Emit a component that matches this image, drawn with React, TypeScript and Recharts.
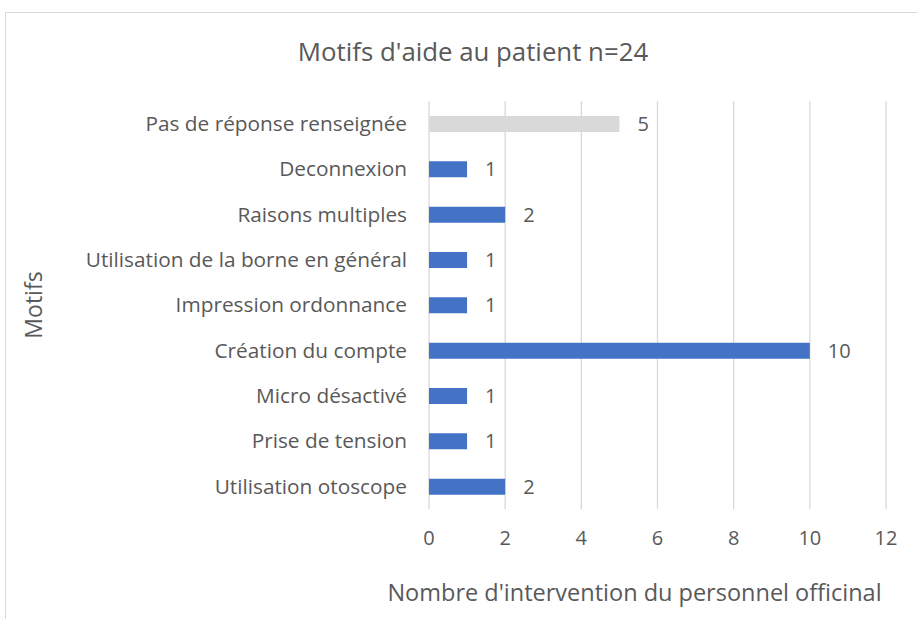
import React from "react";
import { BarChart, Bar, XAxis, YAxis, CartesianGrid, Cell, LabelList } from "recharts";

const motifs = [
  "Pas de réponse renseignée",
  "Deconnexion",
  "Raisons multiples",
  "Utilisation de la borne en général",
  "Impression ordonnance",
  "Création du compte",
  "Micro désactivé",
  "Prise de tension",
  "Utilisation otoscope",
];
const interventions = [5, 1, 2, 1, 1, 10, 1, 1, 2];
const xTicks = [0, 2, 4, 6, 8, 10, 12];

const data = motifs.map((motif, i) => ({ motif, value: interventions[i] }));

const FONT = "'Open Sans', sans-serif";
const TEXT = "#595959";

export default function App() {
  return (
    <div style={{ position: "absolute", left: 0, top: 0, width: 917, height: 619, background: "#fff", fontFamily: FONT, overflow: "hidden" }}>
      <div
        style={{
          position: "absolute",
          left: 5,
          top: 12,
          width: 1000,
          height: 700,
          borderTop: "1px solid #D9D9D9",
          borderLeft: "1px solid #D9D9D9",
        }}
      />
      <div
        style={{
          position: "absolute",
          left: 0,
          width: 946,
          top: 33,
          textAlign: "center",
          fontSize: 25.8,
          color: TEXT,
        }}
      >
        Motifs d'aide au patient n=24
      </div>
      <div style={{ position: "absolute", left: 0, top: 0 }}>
        <BarChart
          width={917}
          height={619}
          data={data}
          layout="vertical"
          margin={{ top: 101, right: 31, bottom: 0, left: 0 }}
          barSize={16}
        >
          <CartesianGrid horizontal={false} stroke="#D9D9D9" strokeWidth={1.3} />
          <XAxis
            type="number"
            domain={[0, 12]}
            ticks={xTicks}
            axisLine={false}
            tickLine={false}
            tickMargin={16}
            height={110}
            tick={{ fill: TEXT, fontSize: 20, fontFamily: FONT }}
            label={{
              value: "Nombre  d'intervention du personnel officinal",
              position: "insideBottom",
              offset: 18,
              dx: -23,
              fill: TEXT,
              fontSize: 23.5,
              fontFamily: FONT,
              style: { whiteSpace: "pre" },
            }}
          />
          <YAxis
            type="category"
            dataKey="motif"
            width={429}
            axisLine={false}
            tickLine={false}
            tickMargin={16}
            tick={{ fill: TEXT, fontSize: 20.8, fontFamily: FONT }}
            label={{
              value: "Motifs",
              angle: -90,
              position: "insideLeft",
              offset: 34,
              fill: TEXT,
              fontSize: 23,
              fontFamily: FONT,
              style: { textAnchor: "middle" },
            }}
          />
          <Bar dataKey="value" isAnimationActive={false}>
            {data.map((d, i) => (
              <Cell key={d.motif} fill={i === 0 ? "#D9D9D9" : "#4472C4"} />
            ))}
            <LabelList dataKey="value" position="right" offset={18} fill={TEXT} fontSize={20} fontFamily={FONT} />
          </Bar>
        </BarChart>
      </div>
    </div>
  );
}
